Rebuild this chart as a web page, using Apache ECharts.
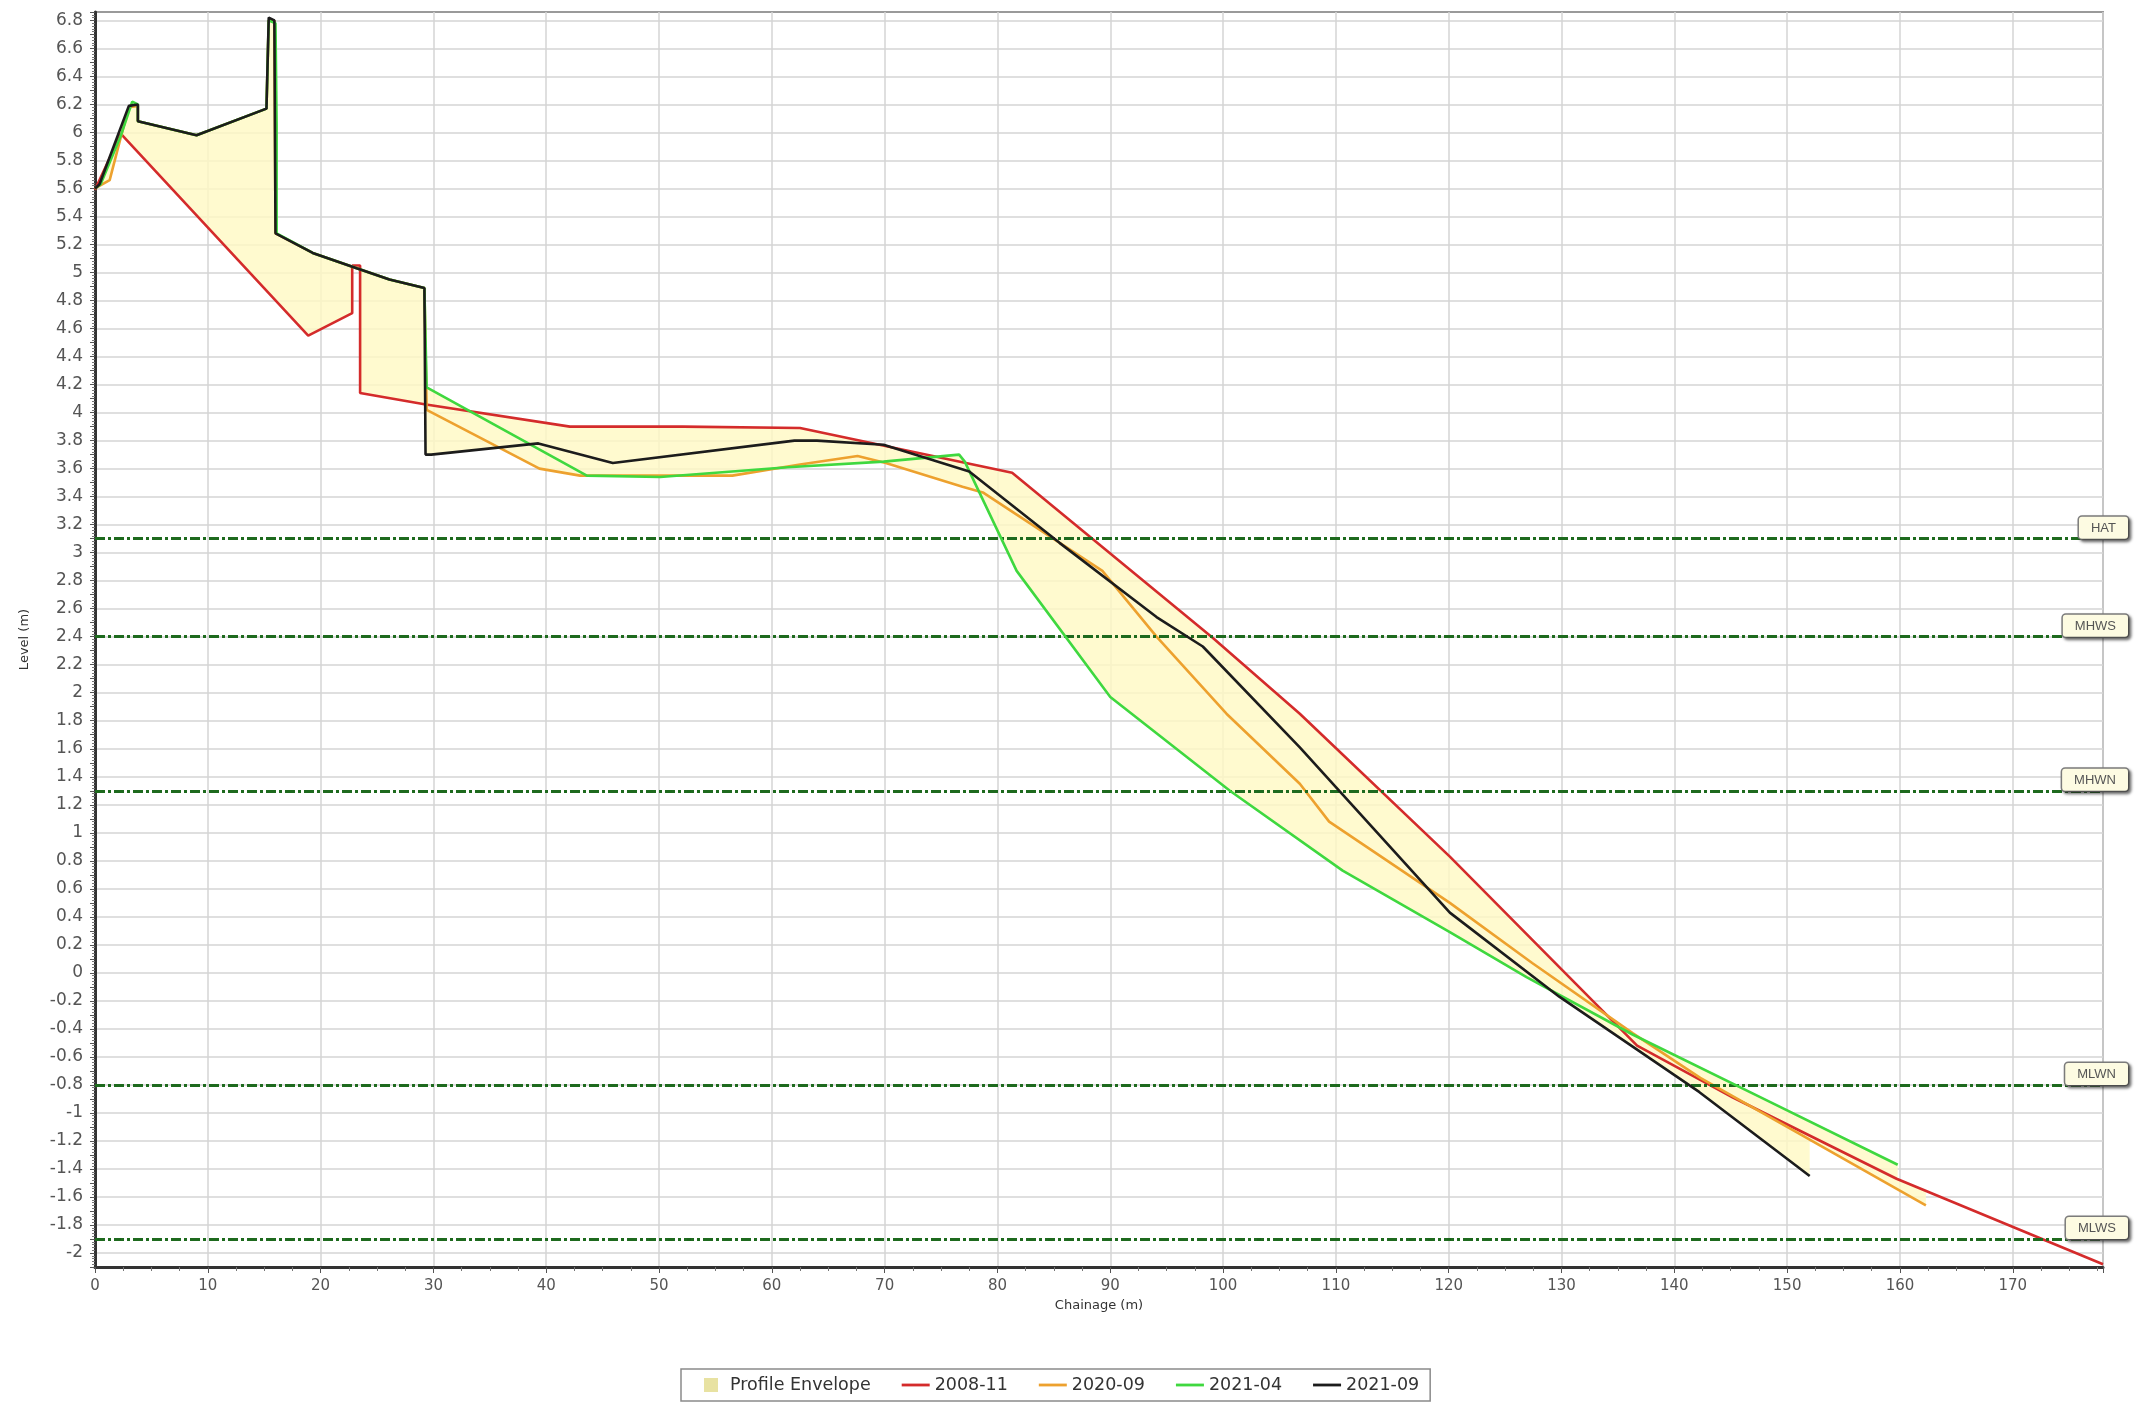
<!DOCTYPE html>
<html><head><meta charset="utf-8">
<script src="https://cdn.jsdelivr.net/npm/echarts@6/dist/echarts.min.js"></script>
<style>html,body{margin:0;padding:0;background:#fff}#c{width:2143px;height:1405px}</style>
</head><body><div id="c"></div>
<script>
// ---- data (chainage m, level m) ----
const seriesNames = ['2008-11', '2020-09', '2021-04', '2021-09'];
const seriesColors = ['#d42b2b', '#eda12e', '#3fd83f', '#1c1c1c'];
const p2008_11 = [[0,5.59],[2.3,5.99],[18.9,4.55],[22.8,4.71],[22.8,5.05],[23.5,5.05],[23.5,4.14],[29.2,4.06],[42.1,3.9],[52.1,3.9],[62.5,3.89],[81.3,3.57],[99.1,2.39],[106.8,1.85],[120.1,0.83],[136.7,-0.52],[145.2,-0.89],[159.7,-1.47],[178,-2.08]];
const p2020_09 = [[0,5.6],[1.3,5.66],[2.3,5.97],[3.0,6.18],[3.8,6.19],[3.8,6.08],[9,5.98],[15.2,6.17],[15.4,6.8],[15.9,6.8],[16,5.28],[19.3,5.14],[23.2,5.03],[26.1,4.95],[29.2,4.89],[29.4,4.02],[39.4,3.6],[43,3.55],[56.5,3.55],[62.5,3.63],[67.6,3.69],[70.1,3.64],[76.9,3.47],[78.7,3.43],[89.3,2.87],[94.1,2.4],[100.3,1.85],[106.8,1.35],[109.4,1.08],[120.1,0.5],[127.4,0.07],[136.3,-0.43],[142.3,-0.75],[151.1,-1.15],[162.3,-1.66]];
const p2021_04 = [[0,5.6],[0.5,5.63],[2.3,5.98],[3.3,6.22],[3.8,6.2],[3.8,6.08],[9,5.98],[15.2,6.17],[15.4,6.8],[16.0,6.78],[16.1,6.05],[16.1,5.28],[19.3,5.14],[23.2,5.03],[26.1,4.95],[29.2,4.89],[29.4,4.18],[43.6,3.55],[50.1,3.54],[61.4,3.61],[69.9,3.65],[76.6,3.7],[77.1,3.65],[81.7,2.87],[90,1.97],[100.6,1.3],[110.6,0.73],[120.1,0.29],[126.9,-0.03],[136.3,-0.44],[148.2,-0.91],[159.8,-1.37]];
const p2021_09 = [[0,5.6],[0.4,5.63],[3.0,6.19],[3.8,6.2],[3.8,6.08],[9,5.98],[15.2,6.17],[15.4,6.82],[15.9,6.8],[16,5.28],[19.3,5.14],[23.2,5.03],[26.1,4.95],[29.2,4.89],[29.3,3.7],[29.8,3.7],[39.3,3.78],[45.9,3.64],[62,3.8],[64,3.8],[69.9,3.77],[77.5,3.58],[85.5,3.07],[94.1,2.54],[98.2,2.33],[106.8,1.61],[120.1,0.43],[129.8,-0.17],[142.2,-0.85],[152,-1.45]];
const profiles = [p2008_11, p2020_09, p2021_04, p2021_09];
const levelNames = ['HAT', 'MHWS', 'MHWN', 'MLWN', 'MLWS'];
const levelValues = [3.1, 2.4, 1.3, -0.8, -1.9];
const xMin = 0, xMax = 178, xStep = 10;
const yMin = -2.1, yMax = 6.86, yStep = 0.1;

// ---- envelope (max/min of all profiles at each chainage) ----
function valuesAt(p, x) {
  const v = [];
  for (let i = 0; i < p.length - 1; i++) {
    const [x1, y1] = p[i], [x2, y2] = p[i + 1];
    if (x1 === x2) continue;
    const lo = Math.min(x1, x2), hi = Math.max(x1, x2);
    if (x >= lo && x <= hi) v.push(y1 + (y2 - y1) * (x - x1) / (x2 - x1));
  }
  return v;
}
function buildEnvelope(ps) {
  const eps = 1e-4;
  let xs = [];
  ps.forEach(p => p.forEach(pt => xs.push(pt[0])));
  xs = [...new Set(xs)].sort((a, b) => a - b);
  const gmin = xs[0], gmax = xs[xs.length - 1];
  let samples = [];
  xs.forEach(x => {
    samples.push(x - eps >= gmin ? x - eps : x);
    samples.push(x + eps <= gmax ? x + eps : x);
  });
  for (let k = 1; gmin + k * 0.05 < gmax; k++) samples.push(gmin + k * 0.05);
  samples.sort((a, b) => a - b);
  const upper = [], lower = [];
  samples.forEach(x => {
    const all = [];
    ps.forEach(p => all.push(...valuesAt(p, x)));
    if (!all.length) return;
    upper.push([x, Math.max(...all)]);
    lower.push([x, Math.min(...all)]);
  });
  return upper.concat(lower.reverse());
}
const envelope = buildEnvelope(profiles);

const FONT = 'DejaVu Sans';
const chart = echarts.init(document.getElementById('c'), null, {renderer: 'canvas'});

const lineSeries = seriesNames.map((n, i) => ({
  type: 'line', name: n, data: profiles[i], showSymbol: false, symbol: 'none',
  lineStyle: {color: seriesColors[i], width: 2.6}, itemStyle: {color: seriesColors[i]},
  z: 3 + i, animation: false, clip: true
}));

const option = {
  animation: false,
  backgroundColor: '#ffffff',
  grid: {left: 95, right: 40, top: 12, bottom: 138, show: true, borderColor: '#9a9a9a', borderWidth: 2, backgroundColor: '#ffffff'},
  legend: {
    data: [{name: 'Profile Envelope', icon: 'path://M0,0 L10,0 L10,10 L0,10 Z'}]
      .concat(seriesNames.map(n => ({name: n, icon: 'path://M0,0 L30,0 L30,3 L0,3 Z'}))),
    left: 681, top: 1369, orient: 'horizontal',
    itemWidth: 28, itemHeight: 14, itemGap: 31,
    padding: [5, 11, 5, 23],
    borderColor: '#8a8a8a', borderWidth: 1.5, backgroundColor: '#ffffff',
    textStyle: {fontFamily: FONT, fontSize: 17.5, color: '#333', lineHeight: 22},
    selectedMode: false
  },
  xAxis: {
    type: 'value', min: xMin, max: xMax, interval: xStep,
    name: 'Chainage (m)', nameLocation: 'middle', nameGap: 28,
    nameTextStyle: {fontFamily: FONT, fontSize: 13, color: '#333'},
    axisLine: {show: true, onZero: false, lineStyle: {color: '#333', width: 3}},
    axisTick: {show: true, length: 6, lineStyle: {color: '#555', width: 1}},
    minorTick: {show: true, splitNumber: 4, length: 4, lineStyle: {color: '#777'}},
    axisLabel: {fontFamily: FONT, fontSize: 15, color: '#555', margin: 12,
      formatter: v => (Math.abs(v / 10 - Math.round(v / 10)) < 1e-6 ? String(Math.round(v)) : '')},
    splitLine: {show: true, lineStyle: {color: '#d4d4d4', width: 1.5}}
  },
  yAxis: {
    type: 'value', min: yMin, max: yMax, interval: yStep,
    name: 'Level (m)', nameLocation: 'middle', nameGap: 64,
    nameTextStyle: {fontFamily: FONT, fontSize: 13, color: '#333'},
    axisLine: {show: true, onZero: false, lineStyle: {color: '#333', width: 3}},
    axisTick: {show: true, length: 5, lineStyle: {color: '#555', width: 1}},
    minorTick: {show: true, splitNumber: 5, length: 3, lineStyle: {color: '#777'}},
    axisLabel: {fontFamily: FONT, fontSize: 17, color: '#555', margin: 12,
      formatter: v => (Math.abs(v * 5 - Math.round(v * 5)) < 1e-6 ? String(parseFloat(v.toFixed(1))) : '')},
    splitLine: {show: true, lineStyle: {color: ['rgba(0,0,0,0)', '#d4d4d4'], width: 1.5}}
  },
  series: [
    {
      type: 'custom', name: 'Profile Envelope', data: [[0, 0]], z: 1, clip: true, silent: true,
      itemStyle: {color: '#e8e2a2'},
      renderItem: (params, api) => ({
        type: 'polygon',
        shape: {points: envelope.map(p => api.coord(p))},
        style: {fill: 'rgba(255,249,196,0.82)', stroke: null}
      })
    }
  ].concat(lineSeries).concat([{
    type: 'line', name: 'levels', data: [], symbol: 'none', silent: true, z: 10,
    markLine: {
      symbol: ['none', 'none'], silent: true, animation: false,
      lineStyle: {color: '#1e6a1e', width: 3, type: [10, 3, 3, 3]},
      label: {
        show: true, position: 'insideEndTop', distance: [-25, 0], formatter: '{b}',
        fontFamily: 'Liberation Sans', fontSize: 13, color: '#555',
        backgroundColor: '#fdfbe2', borderColor: '#7d7d7d', borderWidth: 1.5, borderRadius: 3,
        padding: [5, 12, 4, 12], shadowColor: 'rgba(0,0,0,0.45)', shadowBlur: 3, shadowOffsetX: 2, shadowOffsetY: 2
      },
      data: levelNames.map((n, i) => ({name: n, yAxis: levelValues[i]}))
    }
  }])
};
chart.setOption(option);
</script>
</body></html>
